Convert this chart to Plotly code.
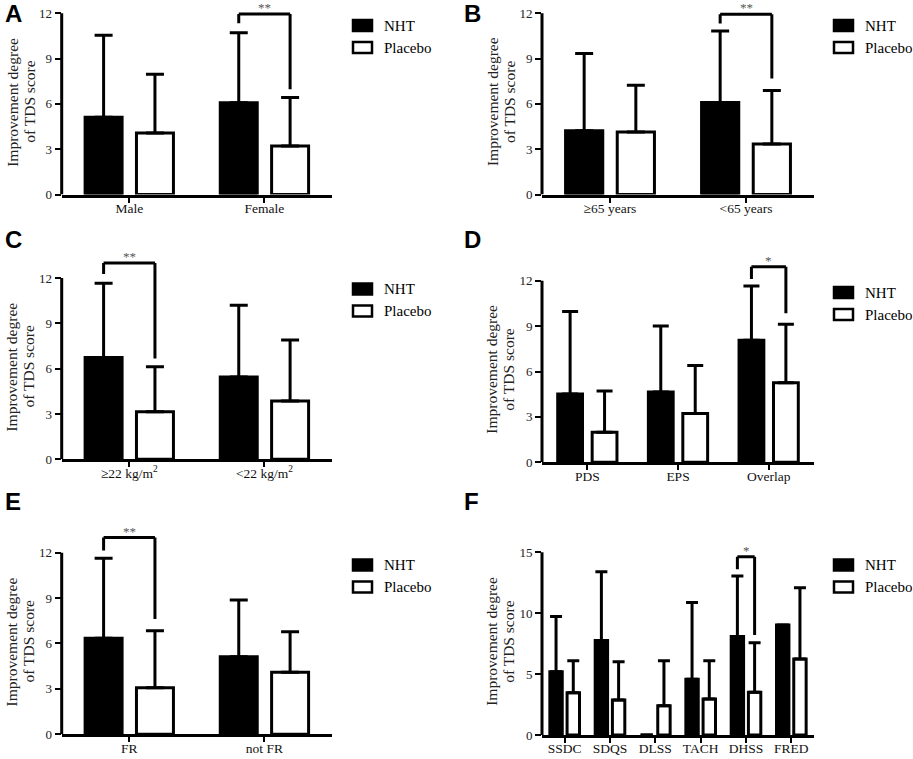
import plotly.graph_objects as go

FONT = "Liberation Serif, Times New Roman, serif"
W, H = 913, 759
BARGAP, GROUPGAP = 0.24, 0.28

# ---- data (mean improvement, SD drawn upward only) ----
# A: sex
sex_cats = ["Male", "Female"]
sex_nht = [5.12, 6.08]
sex_nht_sd = [5.42, 4.64]
sex_pla = [4.08, 3.21]
sex_pla_sd = [3.88, 3.22]

# B: age
age_cats = ["≥65 years", "<65 years"]
age_nht = [4.23, 6.10]
age_nht_sd = [5.10, 4.72]
age_pla = [4.14, 3.35]
age_pla_sd = [3.10, 3.53]

# C: BMI
bmi_cats = ["≥22 kg/m<sup>2</sup>", "<22 kg/m<sup>2</sup>"]
bmi_nht = [6.73, 5.45]
bmi_nht_sd = [4.92, 4.75]
bmi_pla = [3.15, 3.86]
bmi_pla_sd = [2.98, 4.04]

# D: subtype
sub_cats = ["PDS", "EPS", "Overlap"]
sub_nht = [4.52, 4.65, 8.06]
sub_nht_sd = [5.44, 4.35, 3.59]
sub_pla = [1.98, 3.22, 5.26]
sub_pla_sd = [2.73, 3.17, 3.86]

# E: FR
fr_cats = ["FR", "not FR"]
fr_nht = [6.34, 5.13]
fr_nht_sd = [5.29, 3.75]
fr_pla = [3.08, 4.10]
fr_pla_sd = [3.77, 2.68]

# F: TCM syndrome
tcm_cats = ["SSDC", "SDQS", "DLSS", "TACH", "DHSS", "FRED"]
tcm_nht = [5.20, 7.75, 0.0, 4.57, 8.08, 9.03]
tcm_nht_sd = [4.52, 5.66, 0.0, 6.30, 4.98, 0.0]
tcm_pla = [3.47, 2.87, 2.41, 2.96, 3.50, 6.24]
tcm_pla_sd = [2.63, 3.15, 3.69, 3.14, 4.08, 5.86]

# significance brackets: category, label, left end, top, right end
sig_cat = ["Female", "<65 years", "≥22 kg/m<sup>2</sup>", "Overlap", "FR", "DHSS"]
sig_text = ["**", "**", "**", "*", "**", "*"]
sig_left = [11.34, 11.32, 12.27, 12.11, 12.14, 13.60]
sig_top = [11.95, 11.94, 13.00, 12.93, 13.00, 14.64]
sig_right = [6.97, 7.69, 6.68, 9.85, 7.62, 8.21]

groups = ["NHT", "Placebo"]
group_fill = ["black", "white"]

yticks_12 = [0, 3, 6, 9, 12]
yticks_15 = [0, 5, 10, 15]

# ---- panel frames in pixels: axis left, axis right, y of zero, y of top tick ----
panels = [
    ("A", sex_cats, sex_nht, sex_nht_sd, sex_pla, sex_pla_sd, yticks_12, (61.7, 332, 194.5, 13.3), 12.4, 9, (3, 13.5), (352, 25.5)),
    ("B", age_cats, age_nht, age_nht_sd, age_pla, age_pla_sd, yticks_12, (542, 814, 194.5, 13.3), 12.4, 9, (462, 13.5), (833, 25.5)),
    ("C", bmi_cats, bmi_nht, bmi_nht_sd, bmi_pla, bmi_pla_sd, yticks_12, (61.7, 332, 459.3, 278), 13.3, 9, (3, 239), (352, 289)),
    ("D", sub_cats, sub_nht, sub_nht_sd, sub_pla, sub_pla_sd, yticks_12, (542, 814, 462.3, 280.7), 13.2, 8, (462, 239), (833, 292.5)),
    ("E", fr_cats, fr_nht, fr_nht_sd, fr_pla, fr_pla_sd, yticks_12, (61.7, 332, 734.3, 552.7), 13.3, 9, (3, 501), (352, 565)),
    ("F", tcm_cats, tcm_nht, tcm_nht_sd, tcm_pla, tcm_pla_sd, yticks_15, (542, 814, 735, 552.3), 15.3, 6, (462, 501), (833, 565)),
]

fig = go.Figure()
shapes, annotations = [], []
off = (1 - BARGAP) / 4  # centre of each bar inside its group

for i, (letter, cats, nht, nht_sd, pla, pla_sd, yt, frame, rtop, cap, lpos, legpos) in enumerate(panels, start=1):
    sfx = "" if i == 1 else str(i)
    xa, ya = "x" + sfx, "y" + sfx
    left, right, zero, top = frame
    unit = (zero - top) / yt[-1]

    for name, fill, vals, sd in zip(groups, group_fill, (nht, pla), (nht_sd, pla_sd)):
        fig.add_trace(go.Bar(
            x=cats, y=vals, name=name, xaxis=xa, yaxis=ya, showlegend=False,
            marker=dict(color=fill, line=dict(color="black", width=3)),
            error_y=dict(type="data", array=sd, arrayminus=[0] * len(cats), symmetric=False,
                         color="black", thickness=3, width=cap),
        ))

    fig.update_layout(**{
        "xaxis" + sfx: dict(
            domain=[left / W, right / W], anchor=ya, type="category",
            range=[-0.5, len(cats) - 0.5], showline=True, linewidth=3, linecolor="black",
            ticks="outside", ticklen=5, tickwidth=2, tickcolor="black", ticklabelstandoff=-6,
            showgrid=False, zeroline=False, fixedrange=True,
            tickfont=dict(family=FONT, size=13.5, color="#111"),
        ),
        "yaxis" + sfx: dict(
            domain=[1 - zero / H, 1 - (zero - rtop * unit) / H], anchor=xa,
            range=[0, rtop], tickvals=yt, showline=False,
            ticks="outside", ticklen=6, tickwidth=2, tickcolor="black",
            showgrid=False, zeroline=False, fixedrange=True,
            tickfont=dict(family=FONT, size=13, color="#222"),
        ),
    })

    # y axis line stops at the last tick
    shapes.append(dict(type="line", xref=xa + " domain", yref=ya, x0=0, x1=0, y0=0, y1=yt[-1],
                       line=dict(color="black", width=3)))

    # y axis title, two lines
    for text, dx in (("Improvement degree", -50), ("of TDS score", -33)):
        annotations.append(dict(text=text, xref=xa + " domain", yref=ya, x=0, y=yt[-1] * 0.51,
                                xshift=dx, textangle=-90, showarrow=False, xanchor="center",
                                yanchor="middle", font=dict(family=FONT, size=15.5, color="#222")))

    # panel letter
    annotations.append(dict(text="<b>%s</b>" % letter, xref="paper", yref="paper",
                            x=lpos[0] / W, y=1 - lpos[1] / H, xanchor="left", yanchor="middle",
                            showarrow=False, font=dict(family="Liberation Sans, Arial", size=24, color="black")))

    # legend: swatch + label per group
    for j, (name, fill) in enumerate(zip(groups, group_fill)):
        cy = legpos[1] + 22 * j
        shapes.append(dict(type="rect", xref="paper", yref="paper",
                           x0=(legpos[0] + 1) / W, x1=(legpos[0] + 20) / W,
                           y0=1 - (cy - 5.5) / H, y1=1 - (cy + 5.5) / H,
                           fillcolor=fill, line=dict(color="black", width=2.5)))
        annotations.append(dict(text=name, xref="paper", yref="paper",
                                x=(legpos[0] + 30) / W, y=1 - cy / H, xanchor="left", yanchor="middle",
                                showarrow=False, font=dict(family=FONT, size=15, color="black")))

    # significance bracket
    k = i - 1
    c = cats.index(sig_cat[k])
    xl, xr = c - off, c + off
    for x0, y0, x1, y1 in ((xl, sig_left[k], xl, sig_top[k]),
                           (xl, sig_top[k], xr, sig_top[k]),
                           (xr, sig_top[k], xr, sig_right[k])):
        shapes.append(dict(type="line", xref=xa, yref=ya, x0=x0, y0=y0, x1=x1, y1=y1,
                           line=dict(color="black", width=3)))
    annotations.append(dict(text=sig_text[k], xref=xa, yref=ya, x=c, y=sig_top[k],
                            yanchor="bottom", yshift=-3, showarrow=False,
                            font=dict(family=FONT, size=13, color="#555")))

fig.update_layout(
    width=W, height=H,
    margin=dict(l=0, r=0, t=0, b=0, autoexpand=False),
    paper_bgcolor="white", plot_bgcolor="white",
    barmode="group", bargap=BARGAP, bargroupgap=GROUPGAP,
    shapes=shapes, annotations=annotations, showlegend=False,
    font=dict(family=FONT, color="black"),
)

fig.write_html("out.html", config={"displayModeBar": False},
               post_script="document.body.style.margin='0px';")
